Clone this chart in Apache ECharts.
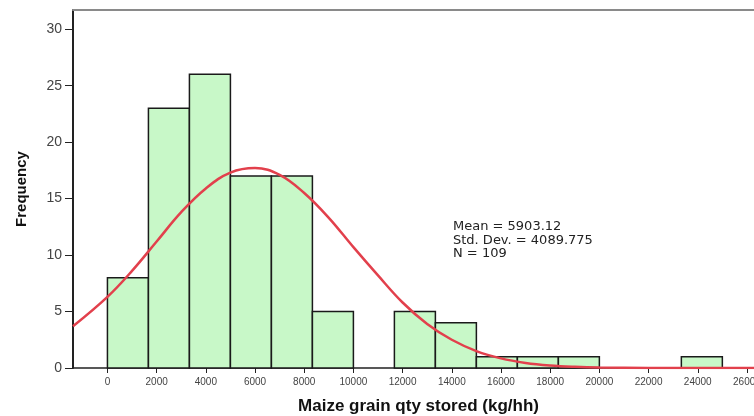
<!DOCTYPE html>
<html><head><meta charset="utf-8">
<script src="https://cdn.jsdelivr.net/npm/echarts@6/dist/echarts.min.js"></script>
<style>html,body{margin:0;padding:0;background:#fff}#c{width:754px;height:416px}</style>
</head><body><div id="c"></div>
<script>
// Histogram bins (kg/hh) and frequencies
var binEdges = [0, 1666.67, 3333.33, 5000, 6666.67, 8333.33, 10000, 11666.67, 13333.33, 15000, 16666.67, 18333.33, 20000, 21666.67, 23333.33, 25000];
var counts   = [8, 23, 26, 17, 17, 5, 0, 5, 4, 1, 1, 1, 0, 0, 1];
// Normal curve
var curveX = [-1400, 0, 1000, 2000, 3000, 4000, 5000, 6000, 7000, 8000, 9000, 10000, 11000, 12000, 13000, 14000, 15000, 16000, 17000, 18000, 19000, 20000, 22000, 24000, 27100];
var curveY = [3.7, 6.3, 8.6, 11.2, 13.8, 15.9, 17.3, 17.7, 17.1, 15.5, 13.3, 10.7, 8.2, 5.8, 3.9, 2.5, 1.5, 0.85, 0.45, 0.22, 0.1, 0.04, 0.01, 0, 0];
var xTicks = [0, 2000, 4000, 6000, 8000, 10000, 12000, 14000, 16000, 18000, 20000, 22000, 24000, 26000];
var yTicks = [0, 5, 10, 15, 20, 25, 30];
var statsText = ['Mean = 5903.12', 'Std. Dev. = 4089.775', 'N = 109'];

var barData = [];
for (var i = 0; i < counts.length; i++) {
  if (counts[i] > 0) barData.push([binEdges[i], binEdges[i + 1], counts[i]]);
}
var lineData = curveX.map(function (x, i) { return [x, curveY[i]]; });

var chart = echarts.init(document.getElementById('c'));
chart.setOption({
  animation: false,
  grid: { left: 73, top: 10, right: -20, bottom: 48, show: false, outerBoundsMode: 'none', containLabel: false },
  xAxis: [{
    type: 'value', min: -1400, max: 27100,
    name: 'Maize grain qty stored (kg/hh)', nameLocation: 'middle', nameGap: 30,
    nameTextStyle: { fontFamily: 'Liberation Sans', fontWeight: 'bold', fontSize: 17, color: '#111', padding: [0, 10, 0, 0] },
    splitLine: { show: false },
    axisLine: { show: true, onZero: false, lineStyle: { color: '#222', width: 1.5 } },
    axisTick: { show: true, length: 5, customValues: xTicks, lineStyle: { color: '#222' } },
    axisLabel: { customValues: xTicks, formatter: function (v) { return String(v); }, fontFamily: 'Liberation Sans', fontSize: 10, color: '#444', margin: 9 }
  }, {
    type: 'value', position: 'top', min: -1400, max: 27100,
    splitLine: { show: false }, axisTick: { show: false }, axisLabel: { show: false },
    axisLine: { show: true, onZero: false, lineStyle: { color: '#8a8a8a', width: 2 } }
  }],
  yAxis: {
    type: 'value', min: 0, max: 31.7,
    name: 'Frequency', nameLocation: 'middle', nameGap: 44,
    nameTextStyle: { fontFamily: 'Liberation Sans', fontWeight: 'bold', fontSize: 15, color: '#111' },
    splitLine: { show: false },
    axisLine: { show: true, onZero: false, lineStyle: { color: '#222', width: 2 } },
    axisTick: { show: true, length: 8, customValues: yTicks, lineStyle: { color: '#222' } },
    axisLabel: { customValues: yTicks, fontFamily: 'Liberation Sans', fontSize: 14, color: '#444', margin: 11 }
  },
  series: [
    {
      type: 'custom', z: 2, data: barData,
      renderItem: function (params, api) {
        var p0 = api.coord([api.value(0), api.value(2)]);
        var p1 = api.coord([api.value(1), 0]);
        return { type: 'rect', shape: { x: p0[0], y: p0[1], width: p1[0] - p0[0], height: p1[1] - p0[1] },
                 style: { fill: '#c8f8c8', stroke: '#1a1a1a', lineWidth: 1.5 } };
      }
    },
    {
      type: 'line', z: 5, data: lineData, smooth: 0.4, symbol: 'none',
      lineStyle: { color: '#e2404c', width: 2.5 }
    }
  ],
  graphic: [{
    type: 'text', left: 453, top: 220, z: 10,
    style: { text: statsText.join('\n'), font: '13px "DejaVu Sans"', lineHeight: 13.5, fill: '#222' }
  }]
});
</script></body></html>
